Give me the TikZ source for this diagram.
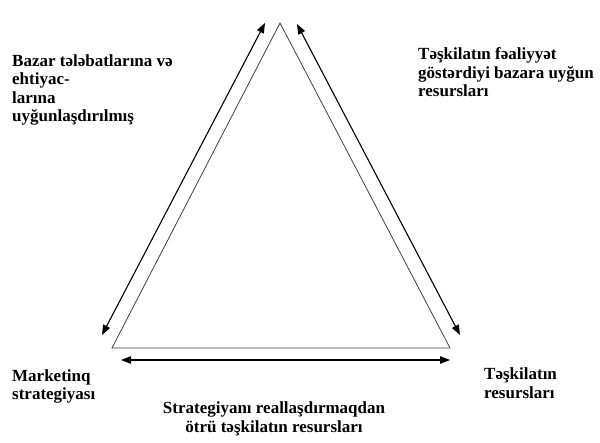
\documentclass[tikz,border=0pt]{standalone}
\usepackage{fontspec}
\setmainfont{Liberation Serif}
\usetikzlibrary{arrows.meta}
\begin{document}
\begin{tikzpicture}[x=1pt,y=-1pt,
  lbl/.style={font=\bfseries\fontsize{17}{18.5}\selectfont, inner sep=0pt, align=left, anchor=base west},
  tri/.style={draw=black!75, line width=0.8pt, line join=miter},
  dbl/.style={draw=black, line width=1.1pt, {Triangle[length=10pt,width=7.5pt]}-{Triangle[length=10pt,width=7.5pt]}}]
\useasboundingbox (0,0) rectangle (600,443);
\coordinate (A) at (280,23);
\coordinate (B) at (112,348);
\coordinate (C) at (450,348);
\draw[tri] (A) -- (B) -- (C) -- cycle;
\coordinate (l1) at (102,335);
\coordinate (l2) at (265,23);
\coordinate (r1) at (297,24);
\coordinate (r2) at (460,335);
\coordinate (b1) at (121,360);
\coordinate (b2) at (450,360);
\draw[dbl] (l1) -- (l2);
\draw[dbl] (r1) -- (r2);
\draw[dbl] (b1) -- (b2);
\node[lbl] (tl) at (12,122) {Bazar tələbatlarına və\\ehtiyac-\\larına\\uyğunlaşdırılmış};
\node[lbl] (tr) at (418,97) {Təşkilatın fəaliyyət\\göstərdiyi bazara uyğun\\resursları};
\node[lbl] (bl) at (12,400) {Marketinq\\strategiyası};
\node[lbl] (br) at (484,398.5) {Təşkilatın\\resursları};
\node[lbl, align=center, anchor=base] (bc) at (274,432.5) {Strategiyanı reallaşdırmaqdan\\ötrü təşkilatın resursları};
\end{tikzpicture}
\end{document}
